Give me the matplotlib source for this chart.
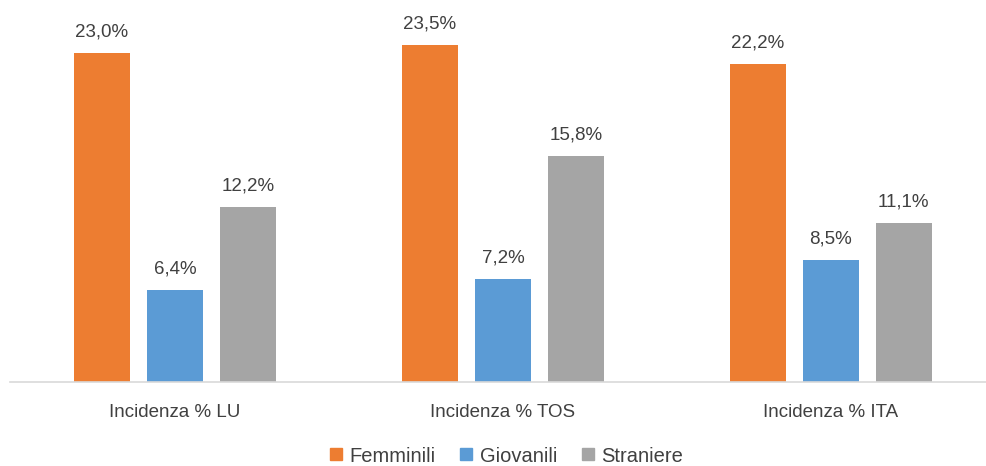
import matplotlib.pyplot as plt
from matplotlib.lines import Line2D
import numpy as np

categories = ["Incidenza % LU", "Incidenza % TOS", "Incidenza % ITA"]
series_names = ["Femminili", "Giovanili", "Straniere"]
femminili = [23.0, 23.5, 22.2]
giovanili = [6.4, 7.2, 8.5]
straniere = [12.2, 15.8, 11.1]
colors = ["#ED7D31", "#5B9BD5", "#A5A5A5"]

plt.rcParams['font.family'] = ['Liberation Sans', 'DejaVu Sans']
txt = "#404040"

fig = plt.figure(figsize=(9.86, 4.66), dpi=100)
ax = fig.add_axes([10 / 986, 84 / 466, 976 / 986, 358 / 466])

x = np.arange(len(categories))
width = 0.171
step = 0.2225
for i, (vals, c) in enumerate(zip([femminili, giovanili, straniere], colors)):
    bars = ax.bar(x + (i - 1) * step, vals, width, color=c)
    labels = [f"{v:.1f}%".replace(".", ",") for v in vals]
    ax.bar_label(bars, labels=labels, padding=9, fontsize=13.5, color=txt)

ax.set_xlim(-0.503, 2.473)
ax.set_ylim(0, 25)
ax.set_xticks(x)
ax.set_xticklabels(categories, fontsize=13.5, color=txt)
ax.tick_params(axis="x", length=0, pad=15.5)
ax.set_yticks([])
for s in ["top", "right", "left"]:
    ax.spines[s].set_visible(False)
ax.spines["bottom"].set_color("#D9D9D9")
ax.spines["bottom"].set_linewidth(1.2)

handles = [Line2D([], [], marker="s", linestyle="none", markersize=8.6,
                  markerfacecolor=c, markeredgecolor=c) for c in colors]
fig.legend(handles, series_names, loc="center", bbox_to_anchor=(506 / 986, 1 - 456 / 466),
           ncol=3, frameon=False, fontsize=14.5, handlelength=0.7, handletextpad=0.3,
           columnspacing=1.2, labelcolor=txt, borderpad=0)

fig.savefig("out.png", dpi=100)
